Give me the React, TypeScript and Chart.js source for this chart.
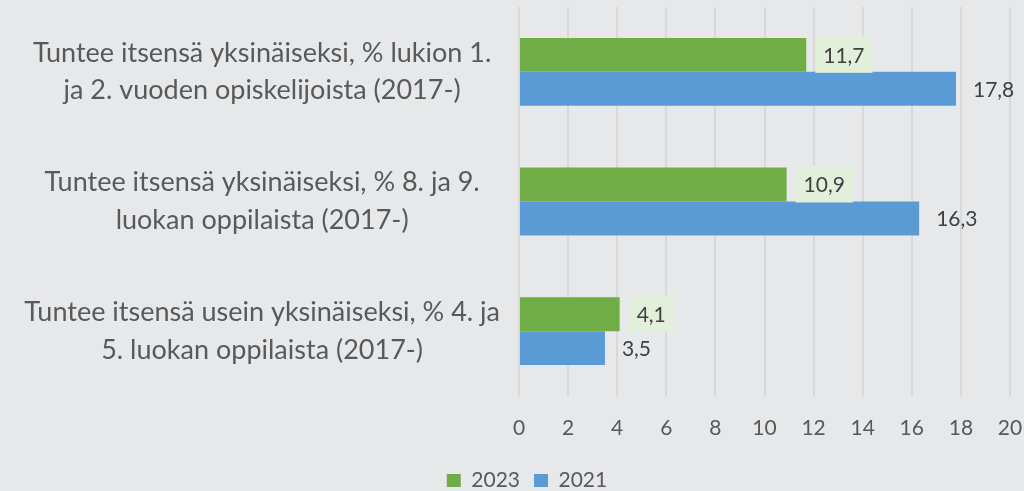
import React, { useEffect, useRef } from "react";
import { Chart, registerables } from "chart.js";

Chart.register(...registerables);

const categories: string[][] = [
  ["Tuntee itsensä yksinäiseksi, % lukion 1.", "ja 2. vuoden opiskelijoista (2017-)"],
  ["Tuntee itsensä yksinäiseksi, % 8. ja 9.", "luokan oppilaista (2017-)"],
  ["Tuntee itsensä usein yksinäiseksi, % 4. ja", "5. luokan oppilaista (2017-)"],
];
const values2023: number[] = [11.7, 10.9, 4.1];
const values2021: number[] = [17.8, 16.3, 3.5];
const seriesNames: string[] = ["2023", "2021"];
const xTicks: number[] = [0, 2, 4, 6, 8, 10, 12, 14, 16, 18, 20];

const FONT = "Lato, 'Noto Sans', sans-serif";
const TEXT = "#595959";

const labelPlugin = {
  id: "valueLabels",
  afterDatasetsDraw(chart: any) {
    const ctx = chart.ctx;
    ctx.save();
    ctx.font = `21px ${FONT}`;
    ctx.textBaseline = "middle";
    chart.data.datasets.forEach((ds: any, di: number) => {
      const meta = chart.getDatasetMeta(di);
      meta.data.forEach((bar: any, i: number) => {
        const txt = String(ds.data[i]).replace(".", ",");
        const w = ctx.measureText(txt).width;
        const padX = 8;
        const x0 = bar.x + 9;
        const h = bar.height + 3;
        if (di === 0) {
          ctx.fillStyle = "#E2EFDA";
          ctx.fillRect(x0, bar.y - h / 2 - 0.5, w + padX * 2, h);
        }
        ctx.fillStyle = "#404040";
        ctx.textAlign = "left";
        ctx.fillText(txt, x0 + padX, bar.y + 1);
      });
    });
    ctx.restore();
  },
};

const legendShift = {
  id: "legendShift",
  afterLayout(chart: any) {
    const lg = chart.legend;
    if (!lg) return;
    lg.left += 22;
    lg.right += 22;
    lg.top += 10;
    lg.bottom += 10;
  },
};

export default function App() {
  const ref = useRef<HTMLCanvasElement>(null);
  useEffect(() => {
    if (!ref.current) return;
    const chart = new Chart(ref.current, {
      type: "bar",
      data: {
        labels: categories,
        datasets: [
          { label: seriesNames[0], data: values2023, backgroundColor: "#70AD47" },
          { label: seriesNames[1], data: values2021, backgroundColor: "#5B9BD5" },
        ],
      },
      options: {
        indexAxis: "y",
        animation: false,
        responsive: false,
        maintainAspectRatio: false,
        layout: { padding: { top: 7, right: 14, left: 0, bottom: 0 } },
        datasets: { bar: { categoryPercentage: 0.523, barPercentage: 1 } } as any,
        scales: {
          x: {
            min: 0,
            max: 20,
            afterBuildTicks: (axis: any) => {
              axis.ticks = xTicks.map((v) => ({ value: v }));
            },
            afterFit: (axis: any) => {
              axis.height = 50;
              axis.paddingLeft = 0;
              axis.paddingRight = 0;
            },
            grid: { color: "#D9D9D9", lineWidth: 2, drawTicks: false },
            border: { display: false },
            ticks: { color: TEXT, font: { size: 21, family: FONT }, padding: 20 },
          },
          y: {
            grid: { display: false },
            border: { display: false },
            afterFit: (axis: any) => {
              axis.width = 519;
              axis.paddingTop = 0;
              axis.paddingBottom = 0;
            },
            ticks: {
              color: TEXT,
              font: { size: 27, family: FONT, lineHeight: 1.4 },
              crossAlign: "center",
              padding: 11,
            },
          },
        },
        plugins: {
          legend: {
            position: "bottom",
            labels: {
              color: TEXT,
              font: { size: 21, family: FONT },
              boxWidth: 14,
              boxHeight: 13,
              padding: 14,
            },
          },
          tooltip: { enabled: false },
        },
      },
      plugins: [labelPlugin, legendShift],
    });
    return () => chart.destroy();
  }, []);
  return (
    <div style={{ position: "fixed", left: 0, top: 0, width: 1024, height: 491, background: "#E7E8EA" }}>
      <canvas ref={ref} width={1024} height={491} style={{ width: 1024, height: 491, display: "block" }} />
    </div>
  );
}
